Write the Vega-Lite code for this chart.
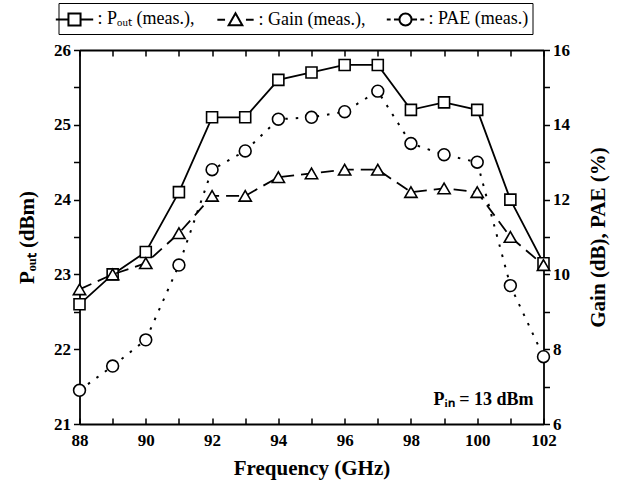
{
  "$schema": "https://vega.github.io/schema/vega-lite/v6.json",
  "width": 464,
  "height": 374,
  "autosize": "none",
  "padding": {"left": 79.5, "top": 50, "right": 74.5, "bottom": 63},
  "background": "white",
  "config": {
    "view": {"stroke": null},
    "axis": {
      "grid": false,
      "domainColor": "black",
      "domainWidth": 1.8,
      "tickColor": "black",
      "tickWidth": 1.5,
      "labelFont": "Liberation Serif",
      "labelFontWeight": "bold",
      "labelFontSize": 17,
      "labelColor": "black",
      "titleFont": "Liberation Serif",
      "titleFontWeight": "bold",
      "titleFontSize": 21,
      "titleColor": "black"
    }
  },
  "data": {
    "values": [
      {"f": 88, "series": "Pout", "v": 22.6}, {"f": 89, "series": "Pout", "v": 23.0}, {"f": 90, "series": "Pout", "v": 23.3},
      {"f": 91, "series": "Pout", "v": 24.1}, {"f": 92, "series": "Pout", "v": 25.1}, {"f": 93, "series": "Pout", "v": 25.1},
      {"f": 94, "series": "Pout", "v": 25.6}, {"f": 95, "series": "Pout", "v": 25.7}, {"f": 96, "series": "Pout", "v": 25.8},
      {"f": 97, "series": "Pout", "v": 25.8}, {"f": 98, "series": "Pout", "v": 25.2}, {"f": 99, "series": "Pout", "v": 25.3},
      {"f": 100, "series": "Pout", "v": 25.2}, {"f": 101, "series": "Pout", "v": 24.0}, {"f": 102, "series": "Pout", "v": 23.15},
      {"f": 88, "series": "Gain", "v": 9.6}, {"f": 89, "series": "Gain", "v": 10.0}, {"f": 90, "series": "Gain", "v": 10.3},
      {"f": 91, "series": "Gain", "v": 11.1}, {"f": 92, "series": "Gain", "v": 12.1}, {"f": 93, "series": "Gain", "v": 12.1},
      {"f": 94, "series": "Gain", "v": 12.6}, {"f": 95, "series": "Gain", "v": 12.7}, {"f": 96, "series": "Gain", "v": 12.8},
      {"f": 97, "series": "Gain", "v": 12.8}, {"f": 98, "series": "Gain", "v": 12.2}, {"f": 99, "series": "Gain", "v": 12.3},
      {"f": 100, "series": "Gain", "v": 12.2}, {"f": 101, "series": "Gain", "v": 11.0}, {"f": 102, "series": "Gain", "v": 10.25},
      {"f": 88, "series": "PAE", "v": 6.9}, {"f": 89, "series": "PAE", "v": 7.55}, {"f": 90, "series": "PAE", "v": 8.25},
      {"f": 91, "series": "PAE", "v": 10.25}, {"f": 92, "series": "PAE", "v": 12.8}, {"f": 93, "series": "PAE", "v": 13.3},
      {"f": 94, "series": "PAE", "v": 14.15}, {"f": 95, "series": "PAE", "v": 14.2}, {"f": 96, "series": "PAE", "v": 14.35},
      {"f": 97, "series": "PAE", "v": 14.9}, {"f": 98, "series": "PAE", "v": 13.5}, {"f": 99, "series": "PAE", "v": 13.2},
      {"f": 100, "series": "PAE", "v": 13.0}, {"f": 101, "series": "PAE", "v": 9.7}, {"f": 102, "series": "PAE", "v": 7.8}
    ]
  },
  "layer": [
    {
      "transform": [{"filter": "datum.series === 'Pout'"}],
      "mark": {"type": "line", "color": "black", "strokeWidth": 1.8},
      "encoding": {
        "x": {"field": "f", "type": "quantitative",
          "scale": {"domain": [88, 102], "nice": false, "zero": false},
          "axis": {"orient": "bottom", "title": "Frequency (GHz)", "values": [88,89,90,91,92,93,94,95,96,97,98,99,100,101,102],
            "labelExpr": "datum.value % 2 === 0 ? format(datum.value, 'd') : ''", "tickSize": -6, "labelPadding": 14, "titlePadding": 9, "labelFlush": false}},
        "y": {"field": "v", "type": "quantitative",
          "scale": {"domain": [21, 26], "nice": false, "zero": false},
          "axis": {"orient": "left", "title": "Pₒᵤₜ (dBm)", "values": [21,21.5,22,22.5,23,23.5,24,24.5,25,25.5,26],
            "labelExpr": "datum.value % 1 === 0 ? format(datum.value, 'd') : ''", "tickSize": 6, "labelPadding": 3, "titlePadding": 16, "labelFlush": false}}
      }
    },
    {
      "transform": [{"filter": "datum.series === 'Pout'"}],
      "mark": {"type": "point", "shape": "square", "size": 121, "filled": true, "fill": "white", "stroke": "black", "strokeWidth": 1.6, "opacity": 1},
      "encoding": {
        "x": {"field": "f", "type": "quantitative", "scale": {"domain": [88, 102], "nice": false, "zero": false}, "axis": null},
        "y": {"field": "v", "type": "quantitative", "scale": {"domain": [21, 26], "nice": false, "zero": false}, "axis": null}
      }
    },
    {
      "transform": [{"filter": "datum.series === 'Gain'"}],
      "mark": {"type": "line", "color": "black", "strokeWidth": 1.8, "strokeDash": [13, 7]},
      "encoding": {
        "x": {"field": "f", "type": "quantitative", "scale": {"domain": [88, 102], "nice": false, "zero": false}, "axis": null},
        "y": {"field": "v", "type": "quantitative",
          "scale": {"domain": [6, 16], "nice": false, "zero": false},
          "axis": {"orient": "right", "title": "Gain (dB), PAE (%)", "titleAngle": 270, "titleBaseline": "top", "values": [6,7,8,9,10,11,12,13,14,15,16],
            "labelExpr": "datum.value % 2 === 0 ? format(datum.value, 'd') : ''", "tickSize": 6, "labelPadding": 3, "titlePadding": 18, "labelFlush": false}}
      }
    },
    {
      "transform": [{"filter": "datum.series === 'Gain'"}],
      "mark": {"type": "point", "shape": "triangle-up", "size": 150, "filled": true, "fill": "white", "stroke": "black", "strokeWidth": 1.6, "opacity": 1},
      "encoding": {
        "x": {"field": "f", "type": "quantitative", "scale": {"domain": [88, 102], "nice": false, "zero": false}, "axis": null},
        "y": {"field": "v", "type": "quantitative", "scale": {"domain": [6, 16], "nice": false, "zero": false}, "axis": null}
      }
    },
    {
      "transform": [{"filter": "datum.series === 'PAE'"}],
      "mark": {"type": "line", "color": "black", "strokeWidth": 2, "strokeDash": [2.5, 8]},
      "encoding": {
        "x": {"field": "f", "type": "quantitative", "scale": {"domain": [88, 102], "nice": false, "zero": false}, "axis": null},
        "y": {"field": "v", "type": "quantitative", "scale": {"domain": [6, 16], "nice": false, "zero": false}, "axis": null}
      }
    },
    {
      "transform": [{"filter": "datum.series === 'PAE'"}],
      "mark": {"type": "point", "shape": "circle", "size": 140, "filled": true, "fill": "white", "stroke": "black", "strokeWidth": 1.6, "opacity": 1},
      "encoding": {
        "x": {"field": "f", "type": "quantitative", "scale": {"domain": [88, 102], "nice": false, "zero": false}, "axis": null},
        "y": {"field": "v", "type": "quantitative", "scale": {"domain": [6, 16], "nice": false, "zero": false}, "axis": null}
      }
    },
    {
      "mark": {"type": "point", "opacity": 0, "size": 10},
      "encoding": {
        "x": {"field": "f", "type": "quantitative", "scale": {"domain": [88, 102], "nice": false, "zero": false},
          "axis": {"orient": "top", "title": null, "labels": false, "values": [88,89,90,91,92,93,94,95,96,97,98,99,100,101,102], "tickSize": -6}},
        "y": {"field": "v", "type": "quantitative", "scale": {"domain": [6, 16], "nice": false, "zero": false}, "axis": null},
        "shape": {"field": "series", "type": "nominal",
          "scale": {"domain": ["Pout", "Gain", "PAE"],
            "range": [
              "M-1.7,0H-0.55M0.55,0H1.7M-0.55,-0.55H0.55V0.55H-0.55Z",
              "M-1.65,0H-0.95M0.95,0H1.65M0,-0.6L0.62,0.48H-0.62Z",
              "M-1.7,0H-1.35M-1.05,0H-0.6M0.6,0H1.05M1.35,0H1.7M0.55,0A0.55,0.55,0,1,1,-0.55,0A0.55,0.55,0,1,1,0.55,0Z"
            ]},
          "legend": {
            "title": null, "orient": "none", "legendX": -21, "legendY": -47,
            "direction": "horizontal", "columns": 3,
            "symbolSize": 484, "symbolStrokeWidth": 2, "symbolStrokeColor": "black", "symbolFillColor": "white", "symbolOpacity": 1,
            "labelFont": "Liberation Serif", "labelFontSize": 18, "labelColor": "black", "labelOffset": 11, "columnPadding": 17,
            "labelLimit": 300,
            "labelExpr": "datum.label === 'Pout' ? ': Pₒᵤₜ (meas.),' : datum.label === 'Gain' ? ': Gain (meas.),' : ': PAE (meas.)'",
            "padding": 4, "strokeColor": "black",
            "encode": {
              "symbols": {"update": {"fill": {"value": "white"}, "stroke": {"value": "black"}, "opacity": {"value": 1}, "strokeWidth": {"value": 2}}},
              "legend": {"update": {"strokeWidth": {"value": 2.5}}}
            }
          }}
      }
    },
    {
      "data": {"values": [{"note": "Pᵢₙ = 13 dBm"}]},
      "mark": {"type": "text", "align": "right", "baseline": "middle", "font": "Liberation Serif", "fontWeight": "bold", "fontSize": 18, "color": "black"},
      "encoding": {
        "text": {"field": "note", "type": "nominal"},
        "x": {"datum": 101.7, "type": "quantitative", "scale": {"domain": [88, 102], "nice": false, "zero": false}, "axis": null},
        "y": {"datum": 21.32, "type": "quantitative", "scale": {"domain": [21, 26], "nice": false, "zero": false}, "axis": null}
      }
    }
  ],
  "resolve": {"scale": {"y": "independent"}}
}
